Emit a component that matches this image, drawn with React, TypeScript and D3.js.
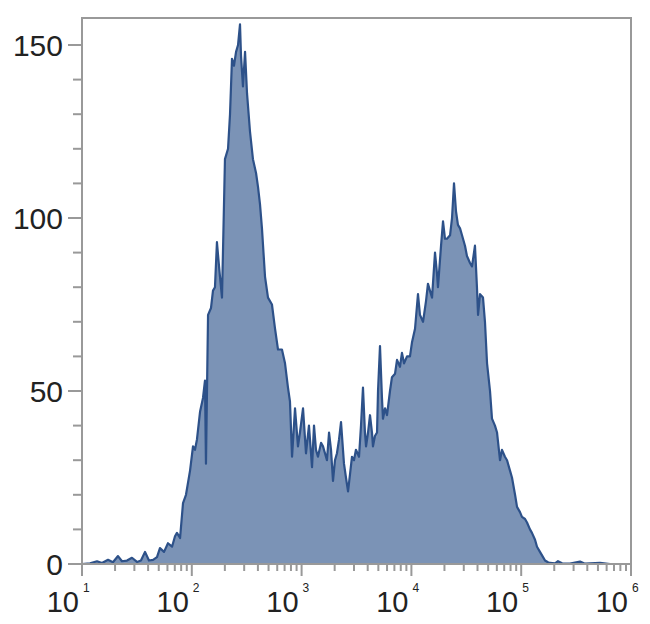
import React from "react";
import * as d3 from "d3";

// log10 of the channel value (bin positions)
const binLog = [
  1.000,1.073,1.137,1.182,1.237,1.282,1.328,1.364,1.410,1.455,1.501,1.537,1.574,1.610,1.647,1.683,
  1.710,1.747,1.783,1.820,1.847,1.865,1.893,1.920,1.947,1.984,2.011,2.029,2.047,2.075,2.102,2.120,
  2.129,2.148,2.175,2.193,2.211,2.229,2.248,2.275,2.302,2.330,2.348,2.366,2.384,2.403,2.421,2.439,
  2.448,2.466,2.485,2.503,2.530,2.557,2.585,2.603,2.621,2.639,2.667,2.694,2.730,2.758,2.785,2.821,
  2.849,2.876,2.894,2.913,2.940,2.967,2.985,3.013,3.040,3.067,3.095,3.113,3.131,3.149,3.177,3.195,
  3.213,3.231,3.250,3.268,3.286,3.304,3.322,3.341,3.359,3.377,3.386,3.404,3.423,3.441,3.459,3.477,
  3.495,3.523,3.541,3.559,3.577,3.587,3.605,3.623,3.641,3.650,3.668,3.687,3.696,3.714,3.732,3.741,
  3.760,3.778,3.805,3.823,3.851,3.869,3.896,3.914,3.933,3.960,3.987,4.005,4.033,4.060,4.078,4.106,
  4.133,4.151,4.169,4.188,4.215,4.233,4.242,4.270,4.288,4.306,4.324,4.352,4.370,4.388,4.406,4.424,
  4.443,4.461,4.488,4.506,4.534,4.552,4.579,4.597,4.607,4.625,4.652,4.670,4.689,4.716,4.734,4.761,
  4.780,4.807,4.825,4.852,4.871,4.898,4.916,4.944,4.962,4.989,5.007,5.035,5.053,5.080,5.098,5.126,
  5.144,5.171,5.199,5.217,5.244,5.262,5.308,5.335,5.372,5.444,5.536,5.581,5.718,5.809,6.000,
];

const counts = [
  0,0.2,0.8,0.3,1.2,0.5,2.3,0.8,1.0,1.8,0.6,1.0,3.5,1.0,1.2,2.0,
  4.6,3.5,6,5,8,9,7.5,17.6,20,27,34,33,36,44,48,53,
  29,72,74,79,80,93,86,77,117,120,130,146,144,148,150,156,
  147,138,148,136,125,117,113,109,104,97,83,77,75,68,62,62,
  58,51,47,31,45,34,38,45,32,40,28,40,33,31,35,34,
  32,30,38,33,24,30,32,36,41,33,29,25,21,26,31,30,
  33,31,40,51,38,34,38,43,38,34,37,38,50,63,48,42,
  45,43,50,54,55,59,57,61,58,60,60,64,68,78,72,70,
  76,81,79,77,90,84,80,92,99,94,94,95,100,110,102,98,
  97,95,92,89,87,86,92,80,72,78,77,70,58,50,42,40,
  38,30,33,31,30,27,25,20,16.5,15,13.6,13,12,10,9,7,
  5,3.5,2,1,0.5,0.3,0.2,0.8,0.2,0.1,0.7,0.1,0.3,0,0,
];

const yTicks = [0, 50, 100, 150];
const xDecades = [1, 2, 3, 4, 5, 6];

const W = 650, H = 624;
const left = 82, right = 631, top = 18, bottom = 564;

export default function App() {
  const x = d3.scaleLog().domain([10, 1e6]).range([left, right]);
  const y = d3.scaleLinear().domain([0, (bottom - top) / 3.46]).range([bottom, top]);
  const data = binLog.map((l, i) => ({ v: Math.pow(10, l), c: counts[i] }));

  const area = d3.area<{ v: number; c: number }>()
    .x(d => x(d.v)).y0(y(0)).y1(d => y(d.c));
  const line = d3.line<{ v: number; c: number }>()
    .x(d => x(d.v)).y(d => y(d.c));

  const minorY = d3.range(0, 160, 10).filter(v => v % 50 !== 0);
  const minorX: number[] = [];
  for (let e = 1; e < 6; e++) for (let m = 2; m <= 9; m++) minorX.push(m * Math.pow(10, e));

  const axisColor = "#999";
  const font = "'Liberation Sans', Arial, sans-serif";

  return (
    <svg width={W} height={H} style={{ position: "absolute", left: 0, top: 0 }}>
      <rect x={0} y={0} width={W} height={H} fill="#fff" />
      <path d={area(data) || ""} fill="#7b93b6" />
      <path d={line(data) || ""} fill="none" stroke="#2d5189" strokeWidth={2.2} strokeLinejoin="round" />
      <rect x={left} y={top} width={right - left} height={bottom - top} fill="none" stroke={axisColor} strokeWidth={2} />
      {yTicks.map(t => (
        <g key={"y" + t}>
          <line x1={left - 14} x2={left} y1={y(t)} y2={y(t)} stroke={axisColor} strokeWidth={2} />
          <text x={left - 19} y={y(t)} dy="0.36em" textAnchor="end" fontFamily={font} fontSize={30} fill="#222">{t}</text>
        </g>
      ))}
      {minorY.map(t => (
        <line key={"my" + t} x1={left - 9} x2={left} y1={y(t)} y2={y(t)} stroke={axisColor} strokeWidth={2} />
      ))}
      {minorX.map(v => (
        <line key={"mx" + v} x1={x(v)} x2={x(v)} y1={bottom} y2={bottom + 7} stroke={axisColor} strokeWidth={2} />
      ))}
      {xDecades.map(e => {
        const px = x(Math.pow(10, e));
        return (
          <g key={"x" + e}>
            <line x1={px} x2={px} y1={bottom} y2={bottom + 12} stroke={axisColor} strokeWidth={2} />
            <text x={px - 3} y={612} textAnchor="end" fontFamily={font} fontSize={29} fill="#222">10</text>
            <text x={px + 1} y={592} textAnchor="start" fontFamily={font} fontSize={12} fill="#222">{e}</text>
          </g>
        );
      })}
    </svg>
  );
}
